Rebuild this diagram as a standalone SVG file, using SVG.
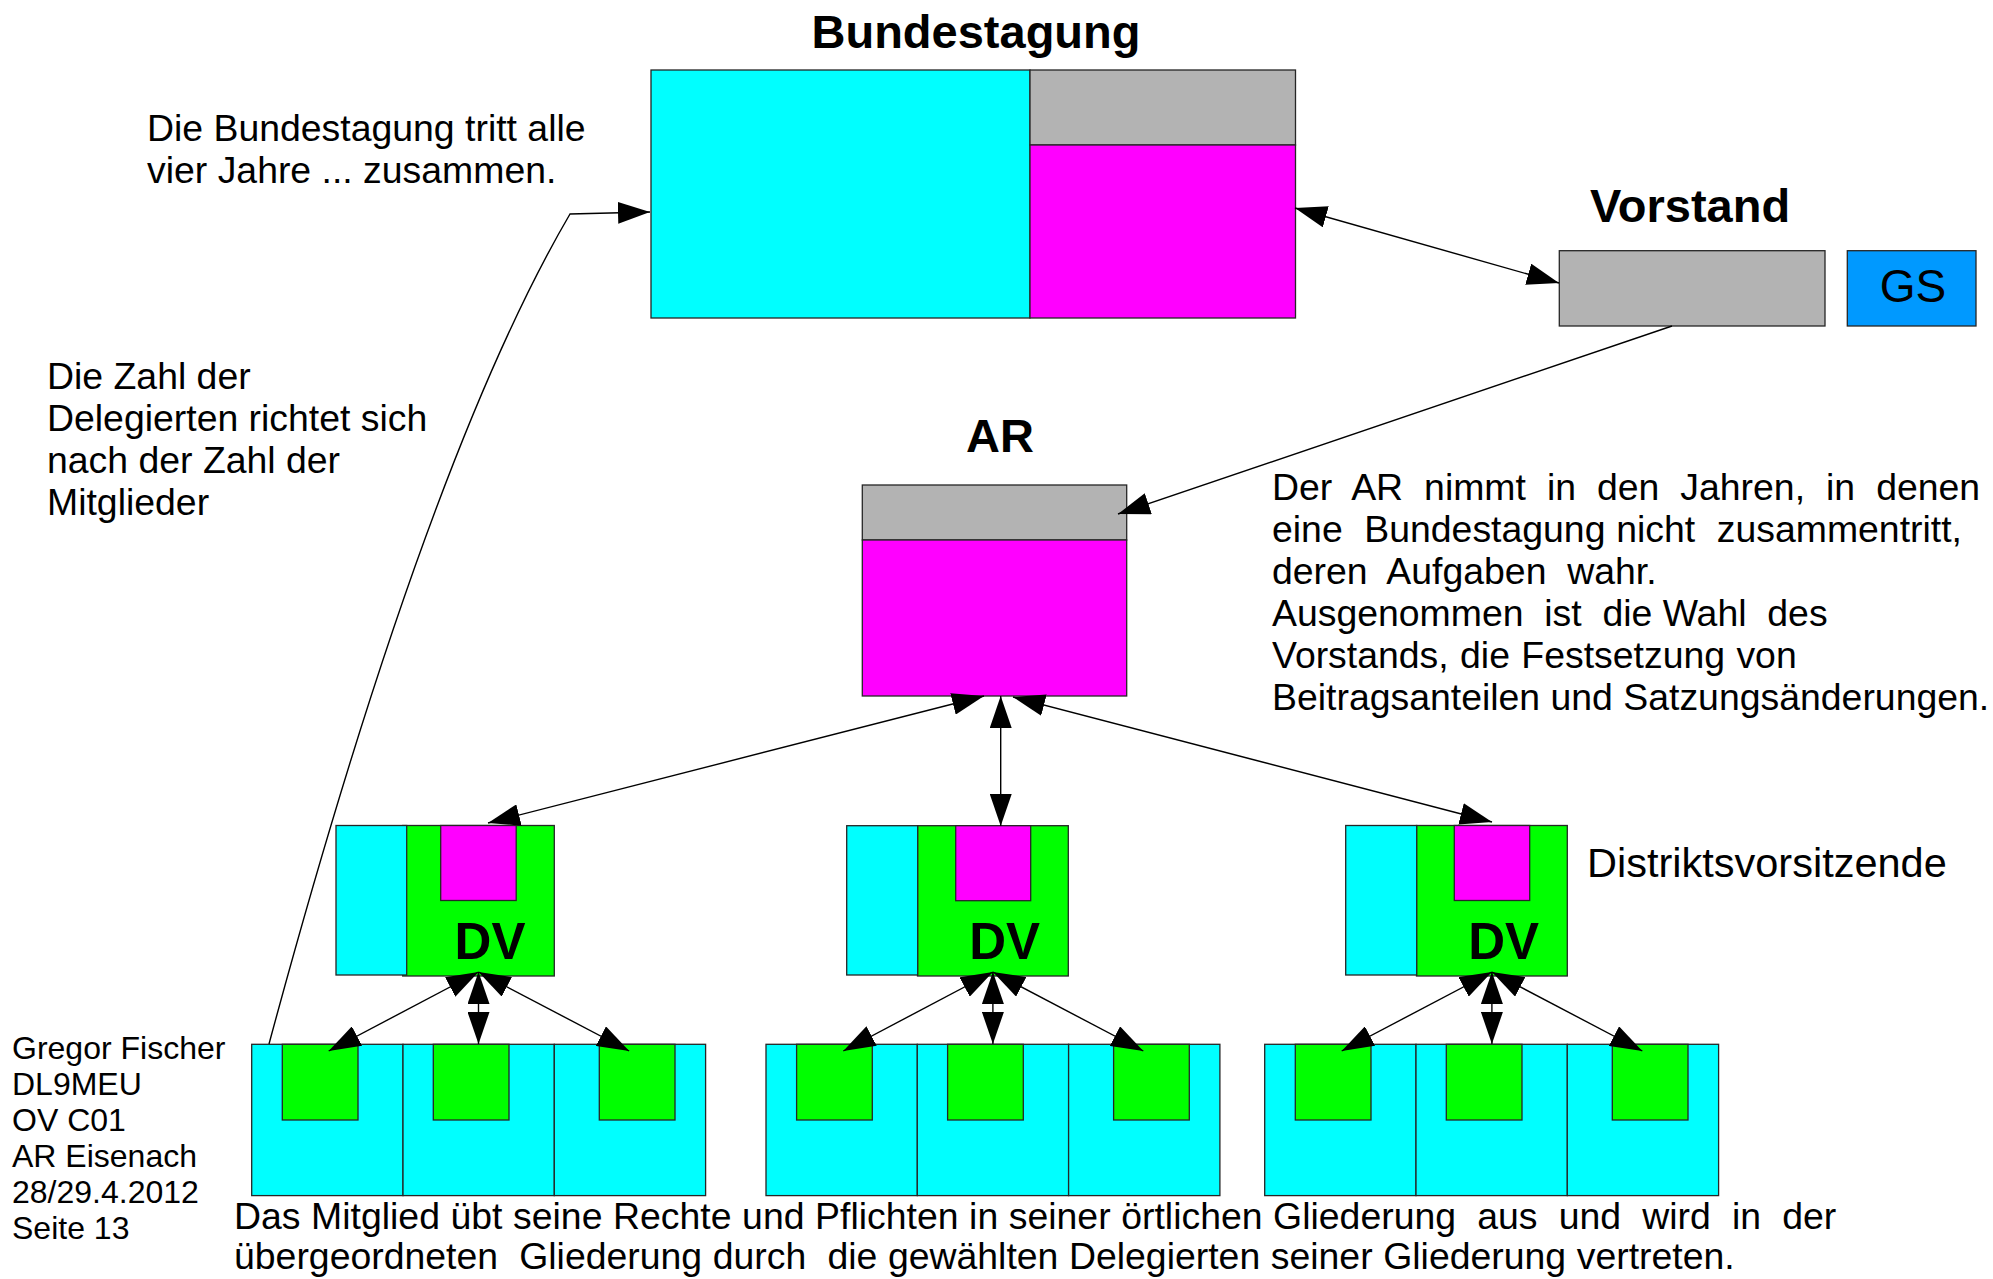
<svg xmlns="http://www.w3.org/2000/svg" width="1993" height="1279" viewBox="0 0 1993 1279">
<style>
.t{font-family:"Liberation Sans",Arial,sans-serif;font-size:37.4px;fill:#000}
.s{font-family:"Liberation Sans",Arial,sans-serif;font-size:32px;fill:#000}
.h{font-family:"Liberation Sans",Arial,sans-serif;font-size:47px;font-weight:bold;fill:#000;text-anchor:middle}
.dv{font-family:"Liberation Sans",Arial,sans-serif;font-size:51px;font-weight:bold;fill:#000;text-anchor:middle}
.b{stroke:#262626;stroke-width:1.3}
.cy{fill:#00ffff}
.mg{fill:#ff00ff}
.gr{fill:#b3b3b3}
.gn{fill:#00ff00}
.c{fill:none;stroke:#000;stroke-width:1.4}
.d{marker-start:url(#ah);marker-end:url(#ah)}
.e{marker-end:url(#ah)}
</style>
<defs>
<marker id="ah" viewBox="0 0 32 22" markerWidth="32" markerHeight="22" refX="32" refY="11" orient="auto-start-reverse" markerUnits="userSpaceOnUse">
<path d="M0,0 L32,11 L0,22 Z" fill="#000"/>
</marker>
<g id="ov">
<rect class="b cy" x="0" y="0" width="151.3" height="151.3"/>
<rect class="b cy" x="151.3" y="0" width="151.3" height="151.3"/>
<rect class="b cy" x="302.6" y="0" width="151.3" height="151.3"/>
<rect class="b gn" x="30.6" y="0" width="75.7" height="75.7"/>
<rect class="b gn" x="181.6" y="0" width="75.7" height="75.7"/>
<rect class="b gn" x="347.6" y="0" width="75.7" height="75.7"/>
</g>
</defs>
<rect width="1993" height="1279" fill="#fff"/>

<g id="bundestagung">
<text class="h" x="976" y="48">Bundestagung</text>
<rect class="b cy" x="651" y="70" width="379" height="248"/>
<rect class="b gr" x="1030" y="70" width="265.5" height="75"/>
<rect class="b mg" x="1030" y="145" width="265.5" height="173"/>
</g>

<g id="vorstand">
<text class="h" x="1690" y="222">Vorstand</text>
<rect class="b gr" x="1559.3" y="250.7" width="265.7" height="75.3"/>
</g>

<g id="gs">
<rect class="b" fill="#0099ff" x="1847.3" y="250.7" width="128.7" height="75.3"/>
<text class="t" style="font-size:46px" x="1913" y="302" text-anchor="middle">GS</text>
</g>

<g id="ar">
<text class="h" x="1000" y="452">AR</text>
<rect class="b gr" x="862.3" y="485" width="264.4" height="55"/>
<rect class="b mg" x="862.3" y="540" width="264.4" height="156"/>
</g>

<g id="dv1">
<rect class="b gn" x="402.7" y="825.5" width="151.6" height="150.5"/>
<rect class="b cy" x="336" y="825.5" width="70.7" height="149.5"/>
<rect class="b mg" x="440.7" y="825.5" width="75.5" height="75"/>
<text class="dv" x="490" y="959">DV</text>
</g>
<g id="dv2">
<rect class="b gn" x="917.5" y="825.7" width="150.8" height="150.3"/>
<rect class="b cy" x="846.7" y="825.7" width="71" height="149.3"/>
<rect class="b mg" x="955.7" y="825.7" width="75" height="75"/>
<text class="dv" x="1004.6" y="959">DV</text>
</g>
<g id="dv3">
<rect class="b gn" x="1416.5" y="825.5" width="150.8" height="150.5"/>
<rect class="b cy" x="1345.7" y="825.5" width="71" height="149.5"/>
<rect class="b mg" x="1454.3" y="825.5" width="75.4" height="75"/>
<text class="dv" x="1503.6" y="959">DV</text>
</g>

<g id="ov1"><use href="#ov" x="251.7" y="1044.3"/></g>
<g id="ov2"><use href="#ov" x="766" y="1044.3"/></g>
<g id="ov3"><use href="#ov" x="1264.7" y="1044.3"/></g>

<g id="connectors">
<path class="c d" d="M1295,208 L1559,283"/>
<path class="c e" d="M1672,326 L1118,514"/>
<path class="c d" d="M984,696 L488,823"/>
<path class="c d" d="M1000.7,696 L1000.7,826"/>
<path class="c d" d="M1013,697 L1492,822"/>
<path class="c d" d="M478.5,972 L328.7,1051"/>
<path class="c d" d="M478.5,972 L478.5,1044"/>
<path class="c d" d="M478.5,972 L629.2,1051"/>
<path class="c d" d="M992.9,972 L843.3,1051"/>
<path class="c d" d="M992.9,972 L992.9,1044"/>
<path class="c d" d="M992.9,972 L1143.3,1051"/>
<path class="c d" d="M1491.9,972 L1341.7,1051"/>
<path class="c d" d="M1491.9,972 L1491.9,1044"/>
<path class="c d" d="M1491.9,972 L1642.3,1051"/>
<path class="c e" d="M269,1044 Q427,458 570,214 L650,212"/>
</g>

<g id="labels">
<text class="t" x="147" y="141">Die Bundestagung tritt alle</text>
<text class="t" x="147" y="183">vier Jahre ... zusammen.</text>
<text class="t" x="47" y="389">Die Zahl der</text>
<text class="t" x="47" y="431">Delegierten richtet sich</text>
<text class="t" x="47" y="473">nach der Zahl der</text>
<text class="t" x="47" y="515">Mitglieder</text>
<text class="t" x="1272" y="499.5" word-spacing="10.6">Der AR nimmt in den Jahren, in denen</text>
<text class="t" x="1272" y="541.5" xml:space="preserve" word-spacing="0.4">eine  Bundestagung nicht  zusammentritt,</text>
<text class="t" x="1272" y="583.5" xml:space="preserve">deren  Aufgaben  wahr.</text>
<text class="t" x="1272" y="625.5" xml:space="preserve">Ausgenommen  ist  die Wahl  des</text>
<text class="t" x="1272" y="667.5" word-spacing="1">Vorstands, die Festsetzung von</text>
<text class="t" x="1272" y="709.5">Beitragsanteilen und Satzungsänderungen.</text>
<text class="t" style="font-size:41.5px" x="1587" y="877">Distriktsvorsitzende</text>
<text class="s" x="12" y="1059">Gregor Fischer</text>
<text class="s" x="12" y="1095">DL9MEU</text>
<text class="s" x="12" y="1131">OV C01</text>
<text class="s" x="12" y="1167">AR Eisenach</text>
<text class="s" x="12" y="1203">28/29.4.2012</text>
<text class="s" x="12" y="1239">Seite 13</text>
<text class="t" x="234" y="1229" xml:space="preserve" word-spacing="0.2">Das Mitglied übt seine Rechte und Pflichten in seiner örtlichen Gliederung  aus  und  wird  in  der</text>
<text class="t" x="234" y="1269" xml:space="preserve" word-spacing="0.2">übergeordneten  Gliederung durch  die gewählten Delegierten seiner Gliederung vertreten.</text>
</g>
</svg>
